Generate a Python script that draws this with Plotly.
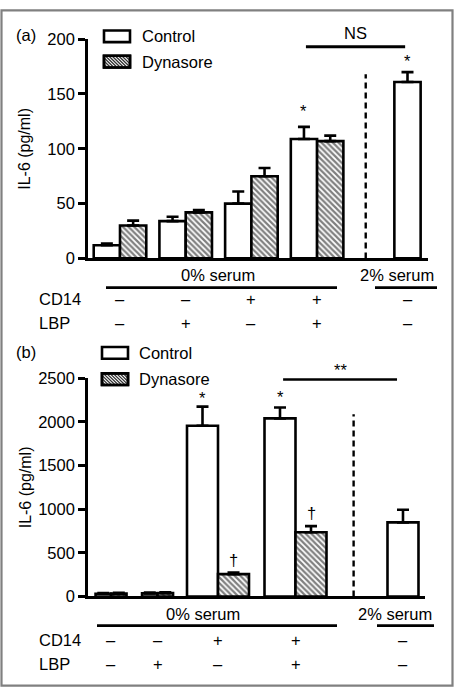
import plotly.graph_objects as go

# ---------------- data ----------------
conditions = ["CD14-/LBP-", "CD14-/LBP+", "CD14+/LBP-", "CD14+/LBP+"]
cd14_signs = ["–", "–", "+", "+", "–"]
lbp_signs = ["–", "+", "–", "+", "–"]

# panel (a)
ctrl_a = [12, 34, 50, 109]
ctrl_a_err = [1.5, 4, 11, 11]
dyn_a = [30, 42, 75, 107]
dyn_a_err = [4.5, 2, 7.5, 5]
serum2_a = [161]
serum2_a_err = [9]

# panel (b)
ctrl_b = [30, 35, 1955, 2040]
ctrl_b_err = [10, 10, 220, 125]
dyn_b = [32, 38, 255, 735]
dyn_b_err = [10, 10, 18, 70]
serum2_b = [848]
serum2_b_err = [145]

yticks_a = [0, 50, 100, 150, 200]
yticks_b = [0, 500, 1000, 1500, 2000, 2500]

# ---------------- layout helpers ----------------
W, H = 455, 697
FONT = "Liberation Sans, Arial, Helvetica, sans-serif"
FS = 16.5


def px(x):
    return x / W


def py(y):
    return 1 - y / H


# group positions on x axes (layout only)
grp_a = [0, 1, 2, 3]
off_a = [0.2, 0.2, 0.2, 0.2]
wid_a = [0.4, 0.4, 0.4, 0.4]
serum_pos_a = 4.376
dash_pos_a = 3.74

grp_b = [0.62, 1.22, 2.0, 3.0]
off_b = [0.1, 0.1, 0.2, 0.2]
wid_b = [0.2, 0.2, 0.4, 0.4]
serum_pos_b = 4.387
dash_pos_b = 3.75

LW = 2.6
pattern = dict(shape="\\", fgcolor="black", bgcolor="white", size=4, solidity=0.55, fillmode="overlay")


def err(arr):
    return dict(type="data", symmetric=False, array=arr, arrayminus=[0] * len(arr),
                thickness=LW, width=6, color="black")


fig = go.Figure()

# panel (a) bars
fig.add_trace(go.Bar(x=[g - o for g, o in zip(grp_a, off_a)], y=ctrl_a, width=wid_a,
                     marker=dict(color="white", line=dict(color="black", width=LW)),
                     error_y=err(ctrl_a_err), xaxis="x", yaxis="y", cliponaxis=False, showlegend=False))
fig.add_trace(go.Bar(x=[g + o for g, o in zip(grp_a, off_a)], y=dyn_a, width=wid_a,
                     marker=dict(color="white", line=dict(color="black", width=LW), pattern=pattern),
                     error_y=err(dyn_a_err), xaxis="x", yaxis="y", cliponaxis=False, showlegend=False))
fig.add_trace(go.Bar(x=[serum_pos_a], y=serum2_a, width=[0.4],
                     marker=dict(color="white", line=dict(color="black", width=LW)),
                     error_y=err(serum2_a_err), xaxis="x", yaxis="y", cliponaxis=False, showlegend=False))

# panel (b) bars
fig.add_trace(go.Bar(x=[g - o for g, o in zip(grp_b, off_b)], y=ctrl_b, width=wid_b,
                     marker=dict(color="white", line=dict(color="black", width=LW)),
                     error_y=err(ctrl_b_err), xaxis="x2", yaxis="y2", cliponaxis=False, showlegend=False))
fig.add_trace(go.Bar(x=[g + o for g, o in zip(grp_b, off_b)], y=dyn_b, width=wid_b,
                     marker=dict(color="white", line=dict(color="black", width=LW), pattern=pattern),
                     error_y=err(dyn_b_err), xaxis="x2", yaxis="y2", cliponaxis=False, showlegend=False))
fig.add_trace(go.Bar(x=[serum_pos_b], y=serum2_b, width=[0.4],
                     marker=dict(color="white", line=dict(color="black", width=LW)),
                     error_y=err(serum2_b_err), xaxis="x2", yaxis="y2", cliponaxis=False, showlegend=False))

shapes = []
annotations = []


def text(x, y, s, size=FS, xanchor="center", yanchor="middle", xref="paper", yref="paper", yshift=0, angle=0):
    annotations.append(dict(x=x, y=y, text=s, xref=xref, yref=yref, showarrow=False,
                            xanchor=xanchor, yanchor=yanchor, yshift=yshift, textangle=angle,
                            font=dict(family=FONT, size=size, color="black")))


def pline(x0, y0, x1, y1, width=LW, color="black", dash=None):
    shapes.append(dict(type="line", xref="paper", yref="paper", x0=px(x0), y0=py(y0), x1=px(x1), y1=py(y1),
                       line=dict(color=color, width=width, dash=dash)))


def legend_box(x1, y1, x2, y2, hatched):
    shapes.append(dict(type="rect", xref="paper", yref="paper", x0=px(x1), y0=py(y1), x1=px(x2), y1=py(y2),
                       fillcolor="white", line=dict(color="black", width=LW)))
    if hatched:
        h = y2 - y1
        path = ""
        c = x1 - h
        while c < x2:
            t0 = max(0, x1 - c)
            t1 = min(h, x2 - c)
            if t1 > t0:
                path += "M%.5f,%.5f L%.5f,%.5f " % (px(c + t0), py(y1 + t0), px(c + t1), py(y1 + t1))
            c += 3.3
        shapes.append(dict(type="path", xref="paper", yref="paper", path=path,
                           line=dict(color="#333", width=1.3)))
        shapes.append(dict(type="rect", xref="paper", yref="paper", x0=px(x1), y0=py(y1), x1=px(x2), y1=py(y2),
                           line=dict(color="black", width=LW)))


# outer frame
shapes.append(dict(type="rect", xref="paper", yref="paper", x0=px(1.5), y0=py(1.5), x1=px(452.5), y1=py(694.5),
                   line=dict(color="#808080", width=2.2)))

# ---- panel (a) decorations ----
text(px(26), py(27), "(a)")
legend_box(104, 22, 130, 34, False)
legend_box(104, 48, 130, 60, True)
text(px(140), py(28), "Control", xanchor="left")
text(px(140), py(54), "Dynasore", xanchor="left")
text(px(25), py(143.5), "IL-6 (pg/ml)", angle=-90, size=16)

# NS bracket
shapes.append(dict(type="line", xref="x", yref="y", x0=2.83, x1=4.34, y0=193, y1=193,
                   line=dict(color="black", width=3)))
text(3.585, 193, "NS", xref="x", yref="y", yanchor="bottom", yshift=3)
# dashed separator
shapes.append(dict(type="line", xref="x", yref="y", x0=dash_pos_a, x1=dash_pos_a, y0=0, y1=168,
                   line=dict(color="black", width=2.4, dash="6px,4px")))
# stars
text(grp_a[3] - off_a[3], ctrl_a[3] + ctrl_a_err[3], "*", xref="x", yref="y", yanchor="bottom", yshift=5)
text(serum_pos_a, serum2_a[0] + serum2_a_err[0], "*", xref="x", yref="y", yanchor="bottom", yshift=0)

text(px(217.5), py(273), "0% serum")
pline(106, 286, 337, 286)
text(px(397), py(273), "2% serum")
pline(375, 286, 437, 286)
text(px(37), py(298), "CD14", xanchor="left")
text(px(37), py(322), "LBP", xanchor="left")
for i, (c, l) in enumerate(zip(cd14_signs, lbp_signs)):
    xx = grp_a[i] if i < 4 else serum_pos_a
    text(xx, py(298), c, xref="x")
    text(xx, py(322), l, xref="x")

# ---- panel (b) decorations ----
text(px(26), py(352), "(b)")
legend_box(102, 347, 128, 359, False)
legend_box(102, 374, 128, 386, True)
text(px(137), py(353), "Control", xanchor="left")
text(px(137), py(380), "Dynasore", xanchor="left")
text(px(25), py(491), "IL-6 (pg/ml)", angle=-90, size=16)

shapes.append(dict(type="line", xref="x2", yref="y2", x0=2.84, x1=4.31, y0=2489, y1=2489,
                   line=dict(color="black", width=3)))
text(3.575, 2489, "**", xref="x2", yref="y2", yanchor="bottom", yshift=-2)
shapes.append(dict(type="line", xref="x2", yref="y2", x0=dash_pos_b, x1=dash_pos_b, y0=0, y1=2087,
                   line=dict(color="black", width=2.4, dash="6px,4px")))
text(grp_b[2] - off_b[2], ctrl_b[2] + ctrl_b_err[2], "*", xref="x2", yref="y2", yanchor="bottom", yshift=-2)
text(grp_b[3] - off_b[3], ctrl_b[3] + ctrl_b_err[3], "*", xref="x2", yref="y2", yanchor="bottom", yshift=-1)
text(grp_b[2] + off_b[2], dyn_b[2] + dyn_b_err[2], "†", xref="x2", yref="y2", yanchor="bottom", yshift=2)
text(grp_b[3] + off_b[3], dyn_b[3] + dyn_b_err[3], "†", xref="x2", yref="y2", yanchor="bottom", yshift=2)

text(px(203), py(621), "0% serum")
pline(97, 633, 337, 633)
text(px(395), py(621), "2% serum")
pline(377, 633, 434, 633)
text(px(37), py(648), "CD14", xanchor="left")
text(px(37), py(672), "LBP", xanchor="left")
for i, (c, l) in enumerate(zip(cd14_signs, lbp_signs)):
    xx = grp_b[i] if i < 4 else serum_pos_b
    text(xx, py(648), c, xref="x2")
    text(xx, py(672), l, xref="x2")

axis_common = dict(showgrid=False, zeroline=False, showline=True, linecolor="black", linewidth=LW,
                   fixedrange=True)
yaxis_common = dict(axis_common, ticks="outside", ticklen=7, tickwidth=LW, tickcolor="black",
                    tickfont=dict(family=FONT, size=FS, color="black"))

fig.update_layout(
    width=W, height=H,
    margin=dict(l=0, r=0, t=0, b=0),
    paper_bgcolor="white", plot_bgcolor="white",
    font=dict(family=FONT, size=FS, color="black"),
    barmode="overlay",
    showlegend=False,
    xaxis=dict(axis_common, domain=[px(88), px(428)], range=[-0.487, 4.688], showticklabels=False,
               ticks="", anchor="y"),
    yaxis=dict(yaxis_common, domain=[py(256), py(31)], range=[0, 200], tickvals=yticks_a, anchor="x"),
    xaxis2=dict(axis_common, domain=[px(88), px(425)], range=[0.3226, 4.671], showticklabels=False,
                ticks="", anchor="y2"),
    yaxis2=dict(yaxis_common, domain=[py(603), py(379)], range=[0, 2500], tickvals=yticks_b, anchor="x2"),
    shapes=shapes,
    annotations=annotations,
)

fig.write_html("out.html", config={"displayModeBar": False},
               post_script="document.body.style.margin='0';document.body.style.overflow='hidden';")
